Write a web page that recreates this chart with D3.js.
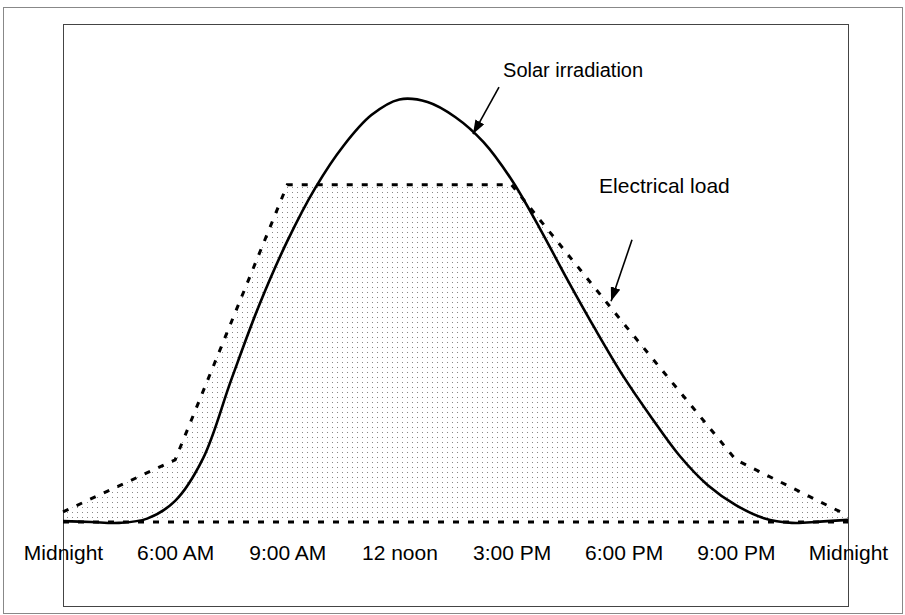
<!DOCTYPE html>
<html><head><meta charset="utf-8">
<script src="https://cdn.jsdelivr.net/npm/d3@7"></script>
<style>
html,body{margin:0;padding:0;background:#fff;}
svg{display:block;font-family:"Liberation Sans",Arial,sans-serif;}
</style></head>
<body>
<svg id="chart" width="905" height="615"></svg>
<script>
// Category labels on the x axis (evenly spaced slots)
const timeLabels = ["Midnight","6:00 AM","9:00 AM","12 noon","3:00 PM","6:00 PM","9:00 PM","Midnight"];
// Electrical load at each slot (relative units, peak solar = 100)
const loadValues = [2.4, 14.7, 79.7, 79.7, 79.7, 46.9, 14.7, 1.5];
// Solar irradiation, sampled every quarter slot
const solarPos = [0,0.25,0.5,0.75,1,1.25,1.5,1.75,2,2.25,2.5,2.75,3,3.25,3.5,3.75,4,4.25,4.5,4.75,5,5.25,5.5,5.75,6,6.25,6.5,6.75,7];
const solarValues = [0.2,0,-0.2,0.8,5.0,15.1,33.6,51.3,66.4,79.0,88.9,96.2,99.9,99.3,95.7,89.8,80.9,69.5,57.2,45.4,34.3,24.6,15.6,8.7,4.0,0.9,-0.2,0.1,0.5];
// Annotations: text anchor, arrow start and arrow tip in (slot, value)
const annotations = [
  {text:"Solar irradiation", tx:3.924, tv:105.2, x1:3.888, v1:102.8, x2:3.656, v2:91.7, size:20},
  {text:"Electrical load",   tx:4.78,  tv:77.8,  x1:5.074, v1:66.7,  x2:4.887, v2:52.2, size:21}
];

const svg = d3.select("#chart");
const box = {left:63, right:848, top:24, bottom:606};
const x = d3.scaleLinear().domain([0, timeLabels.length-1]).range([box.left, box.right]);
const y = d3.scaleLinear().domain([0, 100]).range([522, 99]);

// frames
svg.append("rect").attr("x",3.5).attr("y",7.5).attr("width",899).attr("height",606)
  .attr("fill","none").attr("stroke","#888").attr("stroke-width",1);
svg.append("rect").attr("x",box.left+0.5).attr("y",box.top+0.5)
  .attr("width",box.right-box.left).attr("height",box.bottom-box.top)
  .attr("fill","none").attr("stroke","#444").attr("stroke-width",1);

// stipple pattern
const defs = svg.append("defs");
const pat = defs.append("pattern").attr("id","dots").attr("patternUnits","userSpaceOnUse")
  .attr("width",5).attr("height",5);
pat.append("rect").attr("x",2).attr("y",2).attr("width",1).attr("height",1).attr("fill","#888");
const mk = defs.append("marker").attr("id","arrow").attr("viewBox","0 0 14 10")
  .attr("refX",14).attr("refY",5).attr("markerWidth",14).attr("markerHeight",10)
  .attr("markerUnits","userSpaceOnUse").attr("orient","auto");
mk.append("path").attr("d","M0,0L14,5L0,10Z").attr("fill","#000");

const loadData = loadValues.map((v,i)=>({p:i, v}));
const solarData = solarPos.map((p,i)=>({p, v:solarValues[i]}));

// area under the load
svg.append("path").datum(loadData)
  .attr("d", d3.area().x(d=>x(d.p)).y0(y(0)).y1(d=>y(d.v)))
  .attr("fill","url(#dots)");

// baseline (dashed)
svg.append("path").datum([{p:0,v:0},{p:timeLabels.length-1,v:0}])
  .attr("d", d3.line().x(d=>x(d.p)).y(d=>y(d.v)))
  .attr("fill","none").attr("stroke","#000").attr("stroke-width",3).attr("stroke-dasharray","6,9");

// load line (dashed)
svg.append("path").datum(loadData)
  .attr("d", d3.line().x(d=>x(d.p)).y(d=>y(d.v)))
  .attr("fill","none").attr("stroke","#000").attr("stroke-width",3).attr("stroke-dasharray","6,9");

// solar line
svg.append("path").datum(solarData)
  .attr("d", d3.line().x(d=>x(d.p)).y(d=>y(d.v)).curve(d3.curveCatmullRom))
  .attr("fill","none").attr("stroke","#000").attr("stroke-width",2.6);

// x axis labels
const axis = d3.axisBottom(x).tickValues(d3.range(timeLabels.length))
  .tickFormat(i=>timeLabels[i]).tickSize(0).tickPadding(23);
const ag = svg.append("g").attr("transform",`translate(0,${y(0)})`).call(axis);
ag.select(".domain").remove();
ag.selectAll("text").attr("font-size",21).attr("fill","#000")
  .attr("font-family","'Liberation Sans',Arial,sans-serif");

// annotations
annotations.forEach(a=>{
  svg.append("text").attr("x",x(a.tx)).attr("y",y(a.tv)).attr("font-size",a.size)
    .attr("fill","#000").text(a.text);
  svg.append("line").attr("x1",x(a.x1)).attr("y1",y(a.v1)).attr("x2",x(a.x2)).attr("y2",y(a.v2))
    .attr("stroke","#000").attr("stroke-width",1.6).attr("marker-end","url(#arrow)");
});
</script>
</body></html>
